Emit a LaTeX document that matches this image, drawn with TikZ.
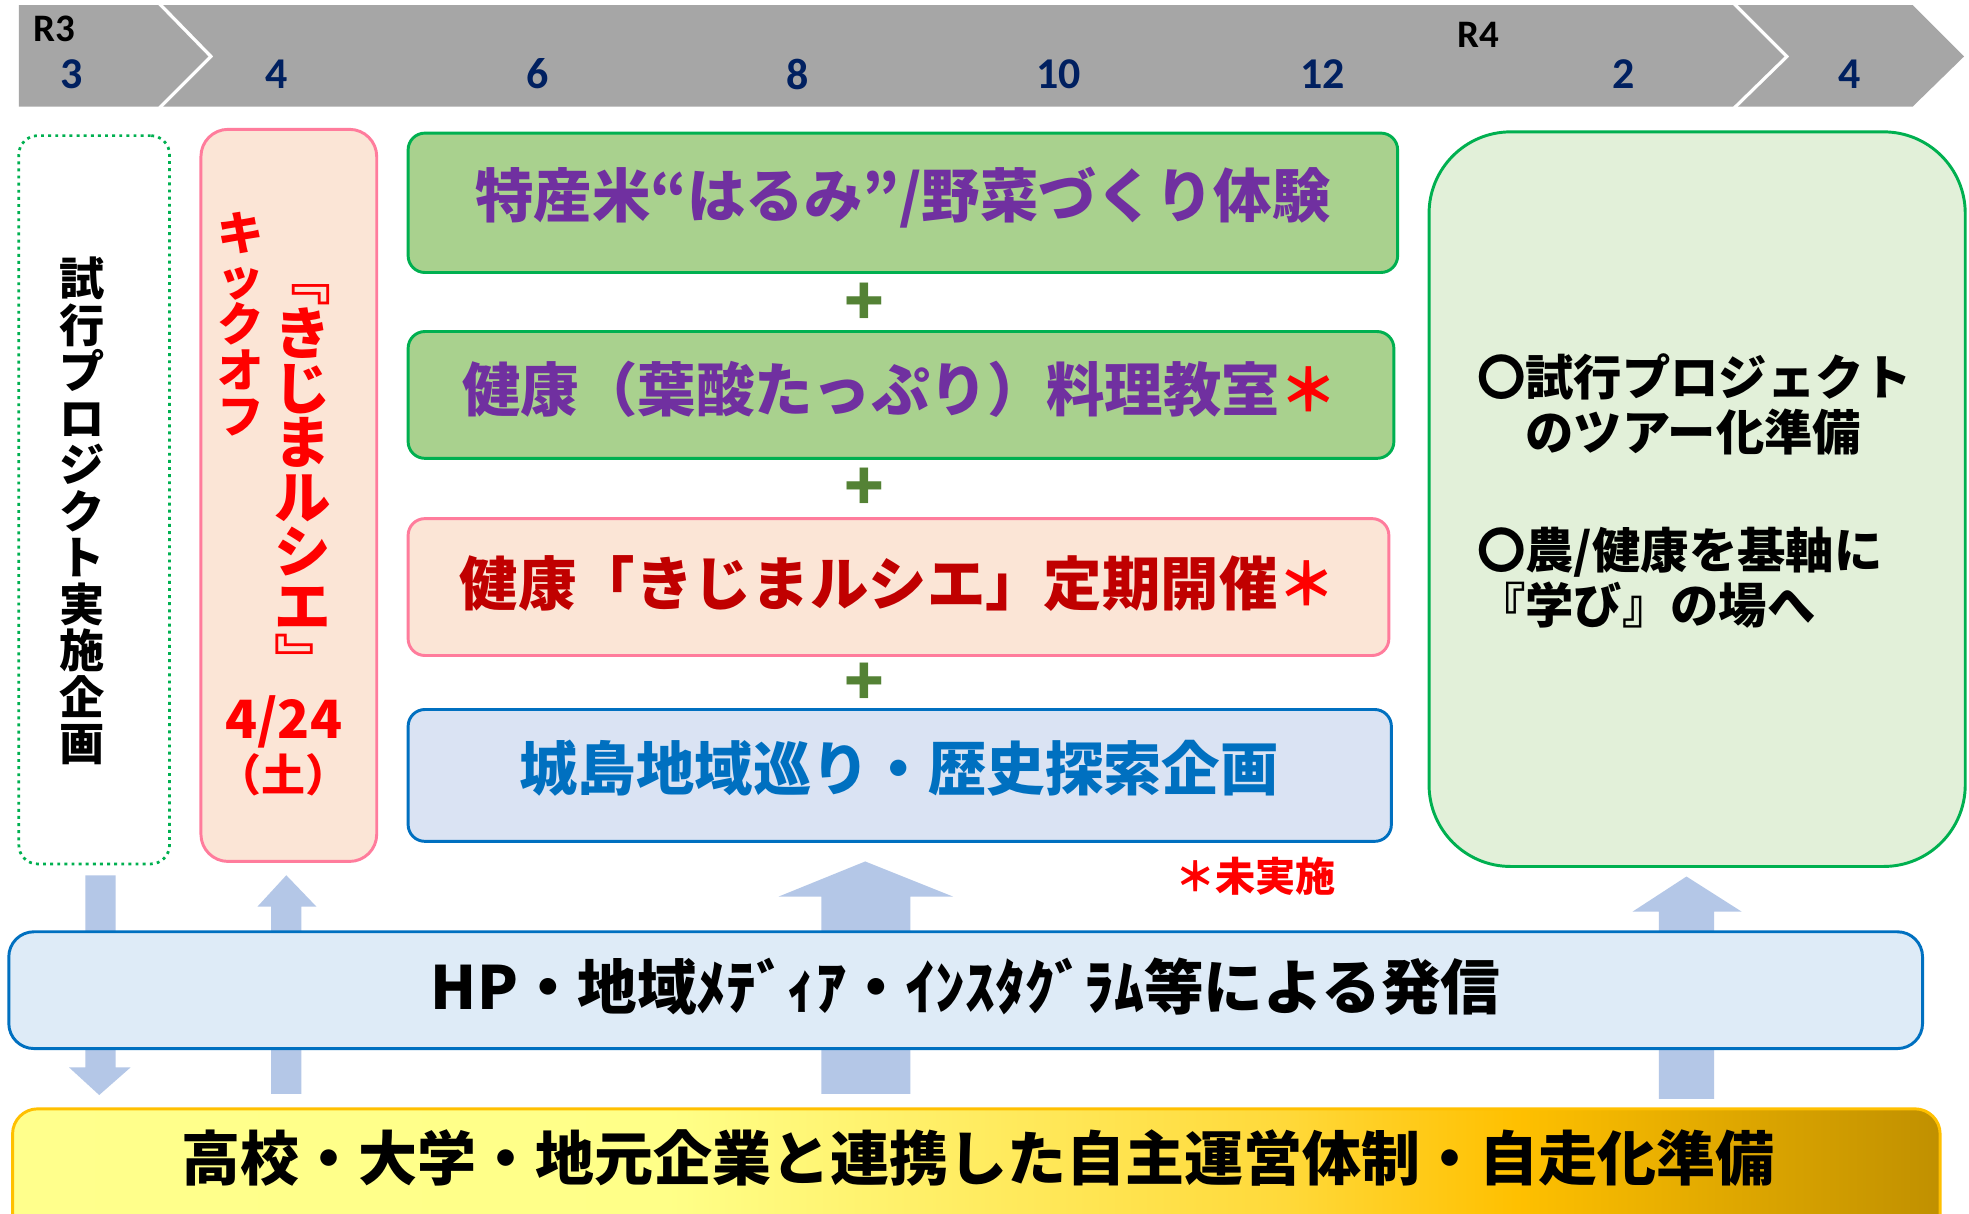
\documentclass[tikz,border=0pt]{standalone}
\usepackage{fontspec}
\setmainfont{Noto Sans CJK JP}
\newfontfamily\numfont{Carlito}
\definecolor{barg}{HTML}{A6A6A6}
\definecolor{navy}{HTML}{002060}
\definecolor{grn}{HTML}{00B050}
\definecolor{pinkfill}{HTML}{FBE5D6}
\definecolor{pinkline}{HTML}{FF7C9C}
\definecolor{gfill}{HTML}{A9D18E}
\definecolor{purp}{HTML}{7030A0}
\definecolor{dred}{HTML}{C00000}
\definecolor{bluet}{HTML}{0070C0}
\definecolor{bluefill}{HTML}{DAE3F3}
\definecolor{ltgreen}{HTML}{E2F0D9}
\definecolor{arrowc}{HTML}{B4C7E7}
\definecolor{hpfill}{HTML}{DEEBF7}
\definecolor{plusg}{HTML}{548235}
\definecolor{gold}{HTML}{FFC000}
\definecolor{gA}{HTML}{FFFF8C}
\definecolor{gB}{HTML}{FFFF88}
\definecolor{gC}{HTML}{FFD93A}
\definecolor{gD}{HTML}{FFC000}
\definecolor{gE}{HTML}{C09000}
\pgfdeclarehorizontalshading{goldbar}{100bp}{color(0bp)=(gA); color(25bp)=(gA); color(42bp)=(gB); color(58bp)=(gC); color(64bp)=(gD); color(75bp)=(gE); color(100bp)=(gE)}
\newcommand\fsz[1]{\fontsize{\fpeval{#1*0.6}pt}{\fpeval{#1*0.72}pt}\selectfont}
\newcommand\fszl[2]{\fontsize{\fpeval{#1*0.6}pt}{\fpeval{#2*0.6}pt}\selectfont}
\tikzset{
  boxbase/.style={rectangle, inner sep=0pt, line width=1.4pt},
  txt/.style={inner sep=0pt, align=center, font=\bfseries\fsz{46.5}},
  mon/.style={inner sep=0pt, text=navy, font=\numfont\bfseries\fsz{35}},
  rlab/.style={inner sep=0pt, text=black, font=\numfont\bfseries\fsz{31}},
  plussign/.style={inner sep=0pt, text=plusg, font=\bfseries\fsz{52}},
  blockarrow/.style={fill=arrowc, draw=none},
}
\begin{document}
\begin{tikzpicture}[x=0.6pt,y=-0.6pt]
\useasboundingbox (0,0) rectangle (1568,966);
\clip (0,0) rectangle (1568,966);
\fill[white] (0,0) rectangle (1568,966);

% timeline
\fill[barg] (15,4) -- (126,4) -- (166,45) -- (126,85) -- (15,85) -- cycle;
\fill[barg] (130,4) -- (1380,4) -- (1421,45) -- (1380,85) -- (130,85) -- (170,45) -- cycle;
\fill[barg] (1384,4) -- (1523,4) -- (1564,45) -- (1523,85) -- (1384,85) -- (1425,45) -- cycle;
\node[rlab] (r3) at (43,23) {R3};
\node[rlab] (r4) at (1177,28) {R4};
\node[mon] (m3) at (57,59) {3};
\node[mon] (m4) at (220,59) {4};
\node[mon] (m6) at (428,59) {6};
\node[mon] (m8) at (635,59) {8};
\node[mon] (m10) at (843,59) {10};
\node[mon] (m12) at (1053,59) {12};
\node[mon] (m2) at (1293,59) {2};
\node[mon] (m4b) at (1473,59) {4};

% block arrows (behind the HP bar)
\fill[blockarrow] (68,697) -- (92,697) -- (92,850) -- (104,850) -- (79,872) -- (55,850) -- (68,850) -- cycle;
\fill[blockarrow] (216,871) -- (240,871) -- (240,722) -- (252,722) -- (228,697) -- (205,722) -- (216,722) -- cycle;
\fill[blockarrow] (654,871) -- (725,871) -- (725,714) -- (759,714) -- (689,686) -- (620,714) -- (654,714) -- cycle;
\fill[blockarrow] (1321,875) -- (1365,875) -- (1365,726) -- (1387,726) -- (1343,698) -- (1300,726) -- (1321,726) -- cycle;

% left dotted box
\node[boxbase, draw=grn, dotted, line width=1.3pt, fill=white, rounded corners=9pt,
  minimum width=72pt, minimum height=348pt] (trial) at (75,398) {};
\node[inner sep=0pt, align=center, font=\bfseries\fszl{36}{37}] (trialtxt) at (65,407)
  {試\\行\\プ\\ロ\\ジ\\ク\\ト\\実\\施\\企\\画};

% kickoff box
\node[boxbase, draw=pinkline, fill=pinkfill, rounded corners=13pt,
  minimum width=84pt, minimum height=349.8pt] (kick) at (230,394.5) {};
\node[inner sep=0pt, align=center, text=red, font=\bfseries\fszl{37}{36.5}] (kicktxt) at (192,258)
  {キ\\ッ\\ク\\オ\\フ};
\node[inner sep=0pt, align=center, text=red, font=\bfseries\fszl{45}{43.5}] (kijima) at (241,385)
  {﹃\\き\\じ\\ま\\ル\\シ\\エ\\﹄};
\node[inner sep=0pt, text=red, font=\bfseries\fsz{42}] (date) at (226,575) {4/24};
\node[inner sep=0pt, text=red, font=\bfseries\fsz{35}] (sat) at (226,617) {（土）};

% central boxes
\node[boxbase, draw=grn, fill=gfill, rounded corners=8pt,
  minimum width=472.8pt, minimum height=66.6pt] (g1) at (719,161.5) {};
\node[txt, text=purp] (g1t) at (719,157) {特産米“はるみ”/野菜づくり体験};
\node[plussign] (p1) at (688,242) {+};
\node[boxbase, draw=grn, fill=gfill, rounded corners=8pt,
  minimum width=471pt, minimum height=60.6pt] (g2) at (717.5,314.5) {};
\node[txt, text=purp] (g2t) at (717,310) {健康（葉酸たっぷり）料理教室{\color{red}＊}};
\node[plussign] (p2) at (688,390) {+};
\node[boxbase, draw=pinkline, fill=pinkfill, rounded corners=8pt,
  minimum width=468.6pt, minimum height=65.4pt] (p3) at (715.5,467.5) {};
\node[txt, text=dred] (p3t) at (715,465) {健康「きじまルシエ」定期開催{\color{red}＊}};
\node[plussign] (p3plus) at (688,545) {+};
\node[boxbase, draw=bluet, fill=bluefill, rounded corners=8pt,
  minimum width=469.8pt, minimum height=63pt] (b4) at (716.5,617.5) {};
\node[txt, text=bluet] (b4t) at (716,612) {城島地域巡り・歴史探索企画};
\node[inner sep=0pt, text=red, font=\bfseries\fsz{32}] (note) at (1000,698) {＊未実施};

% right box
\node[boxbase, draw=grn, fill=ltgreen, rounded corners=39pt,
  minimum width=256.2pt, minimum height=351pt] (future) at (1351.5,397.5) {};
\node[inner sep=0pt, align=left, anchor=west, font=\bfseries\fszl{38.5}{44}] (futuretxt) at (1176,391)
  {〇試行プロジェクト\\　のツアー化準備\\[30pt]〇農/健康を基軸に\\『学び』の場へ};

% HP bar
\node[boxbase, draw=bluet, fill=hpfill, rounded corners=12pt,
  minimum width=914.4pt, minimum height=55.8pt] (hp) at (769,788.5) {};
\node[txt, font=\bfseries\fsz{47.5}] (hpt) at (769,786) {HP・地域ﾒﾃﾞｨｱ・ｲﾝｽﾀｸﾞﾗﾑ等による発信};

% bottom bar
\node[boxbase, draw=gold, shade, shading=goldbar, rounded corners=12pt,
  minimum width=921pt, minimum height=70.2pt] (base) at (777.5,941.5) {};
\node[txt, font=\bfseries\fsz{47}] (baset) at (779,922) {高校・大学・地元企業と連携した自主運営体制・自走化準備};
\end{tikzpicture}
\end{document}
